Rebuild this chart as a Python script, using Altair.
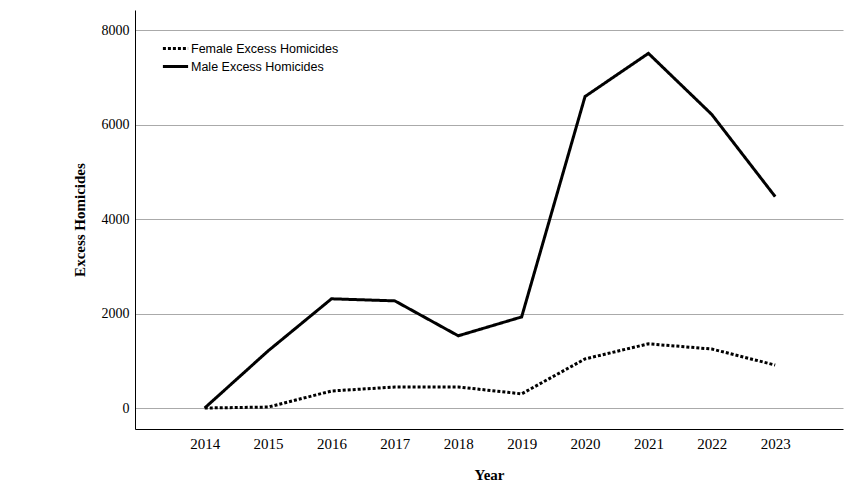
import altair as alt
import pandas as pd

years = [2014, 2015, 2016, 2017, 2018, 2019, 2020, 2021, 2022, 2023]
female = [0, 20, 360, 445, 445, 300, 1040, 1360, 1250, 910]
male = [0, 1210, 2314, 2270, 1530, 1930, 6600, 7515, 6220, 4480]
series_names = ["Female Excess Homicides", "Male Excess Homicides"]

rows = []
for y, f, m in zip(years, female, male):
    rows.append({"Year": y, "Value": f, "Series": series_names[0]})
    rows.append({"Year": y, "Value": m, "Series": series_names[1]})
df = pd.DataFrame(rows)

chart = alt.Chart(df).mark_line(strokeWidth=3, color="black").encode(
    x=alt.X("Year:Q",
            scale=alt.Scale(domain=[2012.9, 2024.07], nice=False, zero=False),
            axis=alt.Axis(values=years, format="d", grid=False, ticks=False,
                          title="Year", labelPadding=7, titlePadding=16,
                          labelFontSize=15, labelFlush=False, labelOverlap=False)),
    y=alt.Y("Value:Q",
            scale=alt.Scale(domain=[-445, 8434], nice=False, zero=False),
            axis=alt.Axis(values=[0, 2000, 4000, 6000, 8000], format="d", grid=True, ticks=False,
                          title="Excess Homicides", labelPadding=6, titlePadding=14,
                          labelFontSize=14)),
    strokeDash=alt.StrokeDash("Series:N",
                              scale=alt.Scale(domain=series_names, range=[[3, 2], [1, 0]]),
                              legend=alt.Legend(title=None, orient="none", legendX=32, legendY=30,
                                                symbolType="M-1.8,0H1.8", symbolSize=196,
                                                symbolStrokeWidth=3, symbolStrokeColor="black",
                                                symbolFillColor="transparent",
                                                labelFont="Liberation Sans", labelFontSize=12.5,
                                                labelColor="black", labelOffset=7, rowPadding=3,
                                                padding=0)),
).properties(
    width=708, height=419,
    autosize=alt.AutoSizeParams(type="none"),
    padding={"left": 127, "top": 2, "right": 2, "bottom": 70},
).configure_view(stroke=None).configure_axis(
    domainColor="black", domainWidth=1,
    gridColor="#aaaaaa", gridWidth=1,
    labelFont="Liberation Serif", labelColor="black",
    titleFont="Liberation Serif", titleFontSize=15, titleFontWeight="bold", titleColor="black",
)

chart.save("out.html", embed_options={"renderer": "svg", "actions": False})
